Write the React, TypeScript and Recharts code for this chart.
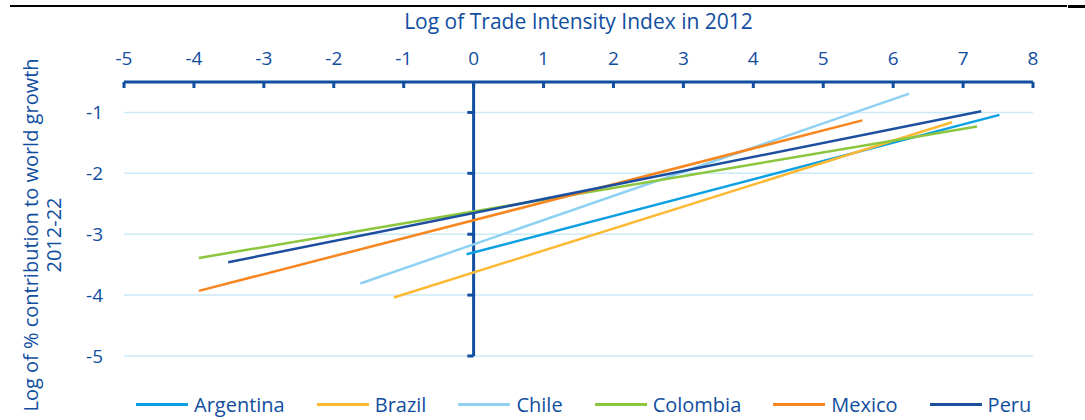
import React from 'react'
import { LineChart, Line, XAxis, YAxis, CartesianGrid, ReferenceLine } from 'recharts'

// fitted regression lines: start and end points per country
const countries = ['Argentina', 'Brazil', 'Chile', 'Colombia', 'Mexico', 'Peru']
const colors = ['#0BA0E2', '#FDB933', '#8FD1F3', '#8CC63F', '#F7861F', '#1D4F9F']
const startX = [-0.1, -1.14, -1.62, -3.93, -3.93, -3.51]
const startY = [-3.33, -4.04, -3.81, -3.39, -3.93, -3.46]
const endX = [7.52, 6.84, 6.23, 7.2, 5.56, 7.26]
const endY = [-1.04, -1.16, -0.69, -1.23, -1.13, -0.98]

const xTicks = [-5, -4, -3, -2, -1, 0, 1, 2, 3, 4, 5, 6, 7, 8]
const yTicks = [-5, -4, -3, -2, -1]

const BLUE = '#114E9F'
const FONT = '"Open Sans", sans-serif'

const series = countries.map((name, i) => ({
    name,
    color: colors[i],
    data: [
        { x: startX[i], y: startY[i] },
        { x: endX[i], y: endY[i] },
    ],
}))

function TopTick(props: any) {
    const { x, y, payload } = props
    return (
        <g>
            <line x1={x} y1={y} x2={x} y2={y + 6} stroke={BLUE} strokeWidth={3} />
            <text x={x} y={y - 17} textAnchor="middle" fill={BLUE} fontSize={19} fontFamily={FONT}>
                {payload.value}
            </text>
        </g>
    )
}

function YTitle() {
    return (
        <g fill={BLUE} fontSize={20} fontFamily={FONT}>
            <text transform="translate(38,235) rotate(-90)" textAnchor="middle">
                Log of % contribution to world growth
            </text>
            <text transform="translate(61,235) rotate(-90)" textAnchor="middle">
                2012-22
            </text>
        </g>
    )
}

export default function App() {
    return (
        <div style={{ position: 'absolute', left: 0, top: 0, width: 1085, height: 420, background: '#fff', fontFamily: FONT }}>
            <div style={{ position: 'absolute', left: 10, top: 5, width: 1057, height: 2, background: '#000' }} />
            <div style={{ position: 'absolute', left: 1068, top: 5, width: 17, height: 3, background: '#000' }} />
            <div
                style={{
                    position: 'absolute',
                    left: 124,
                    width: 909,
                    top: 7,
                    textAlign: 'center',
                    color: BLUE,
                    fontSize: 21,
                }}
            >
                Log of Trade Intensity Index in 2012
            </div>
            <LineChart width={1085} height={420} margin={{ top: 52, right: 52, bottom: 64, left: 84 }}>
                <CartesianGrid vertical={false} stroke="#CBE9F7" strokeWidth={1.5} />
                <XAxis
                    type="number"
                    dataKey="x"
                    orientation="top"
                    domain={[-5, 8]}
                    ticks={xTicks}
                    height={30}
                    tickSize={0}
                    tickMargin={0}
                    tickLine={false}
                    axisLine={{ stroke: BLUE, strokeWidth: 3 }}
                    tick={<TopTick />}
                    allowDataOverflow
                />
                <YAxis
                    type="number"
                    dataKey="y"
                    domain={[-5, -0.5]}
                    ticks={yTicks}
                    width={40}
                    tickSize={0}
                    tickMargin={21}
                    tickLine={false}
                    axisLine={false}
                    tick={{ fill: BLUE, fontSize: 19, fontFamily: FONT }}
                    label={{ content: () => <YTitle /> }}
                    allowDataOverflow
                />
                <ReferenceLine x={0} stroke={BLUE} strokeWidth={3} />
                {yTicks.map((v) => (
                    <ReferenceLine
                        key={v}
                        segment={[
                            { x: -0.09, y: v },
                            { x: 0, y: v },
                        ]}
                        stroke={BLUE}
                        strokeWidth={3}
                    />
                ))}
                {series.map((s) => (
                    <Line
                        key={s.name}
                        data={s.data}
                        dataKey="y"
                        name={s.name}
                        stroke={s.color}
                        strokeWidth={2.5}
                        dot={false}
                        isAnimationActive={false}
                    />
                ))}
            </LineChart>
            <div
                style={{
                    position: 'absolute',
                    left: 136,
                    top: 391,
                    display: 'flex',
                    alignItems: 'center',
                    gap: 32,
                    color: BLUE,
                    fontSize: 20,
                    whiteSpace: 'nowrap',
                }}
            >
                {series.map((s) => (
                    <div key={s.name} style={{ display: 'flex', alignItems: 'center' }}>
                        <span style={{ display: 'inline-block', width: 52, height: 3, background: s.color, marginRight: 6 }} />
                        <span>{s.name}</span>
                    </div>
                ))}
            </div>
        </div>
    )
}
